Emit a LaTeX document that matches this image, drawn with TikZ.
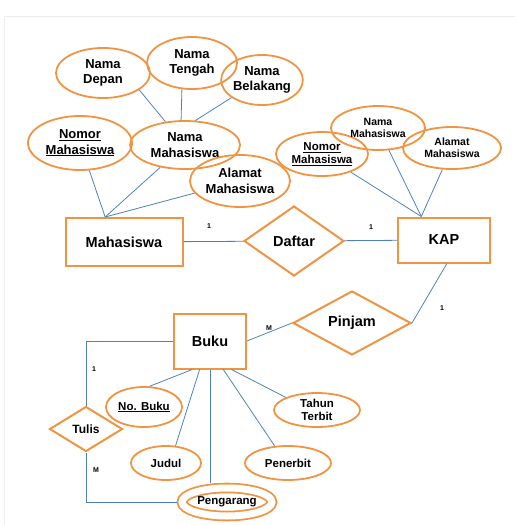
\documentclass[tikz,border=0pt]{standalone}
\usepackage{fontspec}
\setmainfont{Liberation Sans}
\usetikzlibrary{shapes.geometric}
\definecolor{erorange}{RGB}{240,148,66}
\definecolor{erblue}{RGB}{79,129,189}
\tikzset{
	entity/.style={draw=erorange, line width=2pt, inner sep=0pt, font=\fontsize{14.5}{16}\selectfont\bfseries},
	relation/.style={diamond, draw=erorange, line width=2pt, inner sep=0pt, font=\fontsize{14.5}{16}\selectfont\bfseries},
	attrib/.style={ellipse, draw=erorange, line width=1.8pt, inner sep=0pt, align=center, font=\fontsize{13}{15.5}\selectfont\bfseries},
	midattr/.style={attrib, font=\fontsize{11.5}{13}\selectfont\bfseries},
	smallattr/.style={attrib, font=\fontsize{10.5}{12}\selectfont\bfseries},
	link/.style={-, color=erblue, line width=0.8pt},
	card/.style={inner sep=0pt, font=\fontsize{7}{8}\selectfont\bfseries},
}
\begin{document}
\begin{tikzpicture}[x=1pt,y=-1pt]
			\useasboundingbox (0,0) rectangle (515,525);
			\draw[black!7, line width=1pt] (4,525) -- (4,16) -- (515,16);

			\node[attrib, minimum width=94pt, minimum height=50pt] (ndepan) at (103,73) {Nama\\Depan};
			\node[attrib, minimum width=90pt, minimum height=52pt] (ntengah) at (192,63) {Nama\\Tengah};
			\node[attrib, minimum width=78pt, minimum height=50pt] (nbelakang) at (262,80) {Nama\\Belakang};
			\node[attrib, minimum width=104pt, minimum height=54pt] (nomormhs) at (80,143) {\underline{Nomor}\\\underline{Mahasiswa}};
			\node[attrib, minimum width=110pt, minimum height=48pt] (namamhs) at (185,145) {Nama\\Mahasiswa};
			\node[attrib, minimum width=100pt, minimum height=52pt] (alamatmhs) at (240,181) {Alamat\\Mahasiswa};

			\node[entity, minimum width=117pt, minimum height=48pt] (mhs) at (124,242) {Mahasiswa};
			\node[relation, minimum width=100pt, minimum height=70pt] (daftar) at (294,241) {Daftar};
			\node[entity, minimum width=92pt, minimum height=45pt] (kap) at (444,240) {KAP};

			\node[midattr, minimum width=92pt, minimum height=44pt] (kapnomor) at (322,154) {\underline{Nomor}\\\underline{Mahasiswa}};
			\node[smallattr, minimum width=94pt, minimum height=44pt] (kapnama) at (378,128) {Nama\\Mahasiswa};
			\node[smallattr, minimum width=98pt, minimum height=42pt] (kapalamat) at (452,148) {Alamat\\Mahasiswa};

			\node[relation, minimum width=118pt, minimum height=64pt] (pinjam) at (352,323) {Pinjam};
			\node[entity, minimum width=72pt, minimum height=55pt] (buku) at (210,341) {Buku};
			\node[relation, font=\fontsize{12}{14}\selectfont\bfseries, minimum width=73pt, minimum height=45pt] (tulis) at (86,429) {Tulis};

			\node[midattr, minimum width=76pt, minimum height=40pt] (nobuku) at (144,407) {\underline{No. Buku}};
			\node[midattr, minimum width=70pt, minimum height=34pt] (judul) at (166,463) {Judul};
			\node[midattr, double, double distance=7pt, outer sep=5.3pt, minimum width=90pt, minimum height=28pt] (pengarang) at (227,502) {Pengarang};
			\node[midattr, minimum width=86pt, minimum height=34pt] (penerbit) at (288,463) {Penerbit};
			\node[midattr, minimum width=86pt, minimum height=34pt] (tahun) at (317,410) {Tahun\\Terbit};

			\draw[link] (ndepan.-25) -- (namamhs.130);
			\draw[link] (ntengah.249) -- (namamhs.99);
			\draw[link] (nbelakang.210) -- (namamhs.67);
			\draw[link] (nomormhs) -- (mhs.127);
			\draw[link] (namamhs) -- (mhs.127);
			\draw[link] (alamatmhs) -- (mhs.127);
			\draw[link] (mhs) -- (daftar);
			\draw[link] (daftar) -- (kap);
			\draw[link] (kapnomor) -- (kap.134);
			\draw[link] (kapnama) -- (kap.134);
			\draw[link] (kapalamat) -- (kap.134);
			\draw[link] (kap.-83) -- (pinjam.east);
			\draw[link] (buku.east) -- (pinjam.west);
			\draw[link] (buku.west) -| (tulis.north);
			\draw[link] (tulis.south) |- (pengarang.west);
			\draw[link] (buku.238) -- (nobuku.75);
			\draw[link] (buku.250) -- (judul.61);
			\draw[link] (buku.south) -- (buku.south |- pengarang.north);
			\draw[link] (buku.-65) -- (penerbit.128);
			\draw[link] (buku.-53) -- (tahun.158);

			\node[card] (card1) at (209,226) {1};
			\node[card] (card2) at (371,227) {1};
			\node[card] (card3) at (442,308) {1};
			\node[card] (card4) at (269,328) {M};
			\node[card] (card5) at (94,369) {1};
			\node[card] (card6) at (96,470) {M};
\end{tikzpicture}
\end{document}
